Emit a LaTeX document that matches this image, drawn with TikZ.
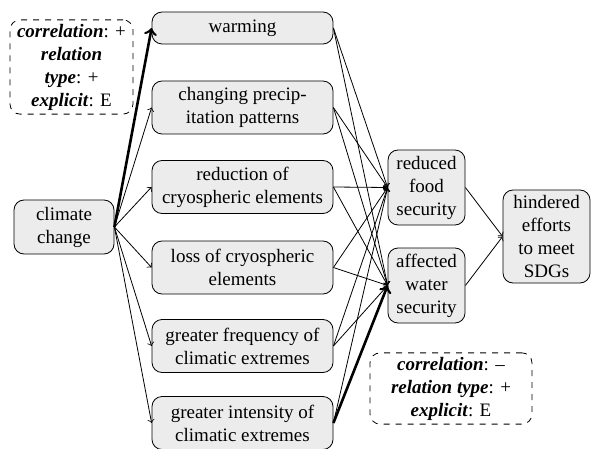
\documentclass[tikz,border=0pt]{standalone}
\usepackage{fontspec}
\setmainfont{Liberation Serif}
\usetikzlibrary{calc}
\newcommand{\boxfont}{\fontsize{9.5}{11.5}\selectfont}
\newcommand{\factor}[2]{\textbf{\textit{#1}}: #2}
\tikzset{
	effect/.style={draw, fill=gray!15, rounded corners=5pt, align=center, font=\boxfont, inner sep=2pt},
	note/.style={draw, dashed, rounded corners=5pt, align=center, font=\boxfont, inner sep=2pt},
	link/.style={->, >=to},
	strong/.style={->, >=to, line width=1.3pt}
}

\begin{document}
\begin{tikzpicture}[x=0.5pt,y=-0.5pt]
	\useasboundingbox (0,0) rectangle (592,448);

	\node[effect, minimum width=50pt, minimum height=27pt] (cc) at (64,227) {climate\\change};

	\node[effect, minimum width=90.5pt, minimum height=16pt] (warm) at (242.5,28) {warming};
	\node[effect, minimum width=90.5pt, minimum height=26.5pt] (prec) at (242.5,107.5) {changing precip-\\itation patterns};
	\node[effect, minimum width=90.5pt, minimum height=26.5pt] (red) at (242.5,187) {reduction of\\cryospheric elements};
	\node[effect, minimum width=90.5pt, minimum height=26.5pt] (loss) at (242.5,267.5) {loss of cryospheric\\elements};
	\node[effect, minimum width=90.5pt, minimum height=26.5pt] (freq) at (242.5,346) {greater frequency of\\climatic extremes};
	\node[effect, minimum width=90.5pt, minimum height=26.5pt] (int) at (242.5,423) {greater intensity of\\climatic extremes};

	\node[effect, minimum width=38.5pt, minimum height=37.5pt] (food) at (426.5,187.5) {reduced\\food\\security};
	\node[effect, minimum width=38.5pt, minimum height=37.5pt] (water) at (426.5,285.5) {affected\\water\\security};

	\node[effect, minimum width=43.5pt, minimum height=46.5pt] (sdg) at (546.5,236.5) {hindered\\efforts\\to meet\\SDGs};

	\node[note, minimum width=61.5pt, minimum height=45pt] (n1) at (71.5,67) {\factor{correlation}{+}\\\textbf{\textit{relation}}\\\factor{type}{+}\\\factor{explicit}{E}};
	\node[note, minimum width=81pt, minimum height=35.5pt] (n2) at (451,388.5) {\factor{correlation}{\textendash}\\\factor{relation type}{+}\\\factor{explicit}{E}};

	% climate change to the first effects
	\draw[strong] (cc.east) -- (warm.west);
	\foreach \t in {prec,red,loss,freq,int}
		\draw[link] (cc.east) -- (\t.west);

	% first effects to security
	\foreach \s in {warm,prec,red,loss,freq}{
		\draw[link] (\s.east) -- (food.west);
		\draw[link] (\s.east) -- (water.west);
	}
	\draw[link] (int.east) -- (food.west);
	\draw[strong] (int.east) -- (water.west);

	\draw[link] (food.east) -- (sdg.west);
	\draw[link] (water.east) -- (sdg.west);
\end{tikzpicture}
\end{document}
